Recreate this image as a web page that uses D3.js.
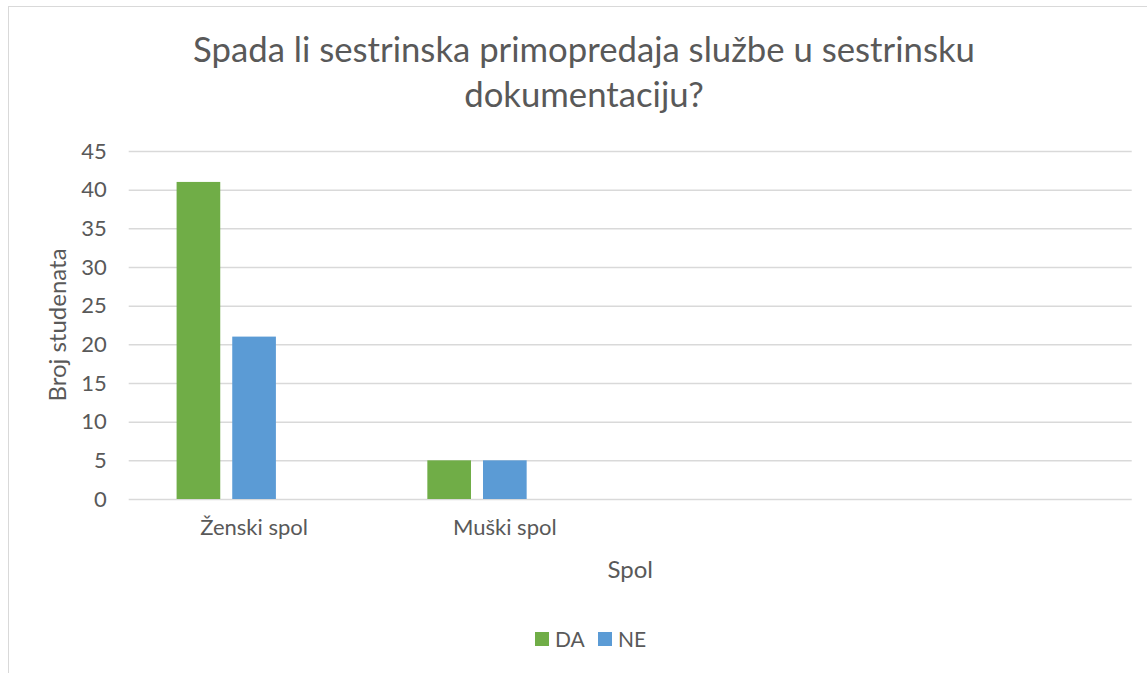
<!DOCTYPE html>
<html><head><meta charset="utf-8">
<script src="https://cdn.jsdelivr.net/npm/d3@7"></script>
<style>body{margin:0;background:#fff}text{font-family:Lato,"Open Sans",sans-serif;fill:#595959}</style>
</head><body><svg id="c" width="1147" height="673"></svg>
<script>
const titleLines = ["Spada li sestrinska primopredaja službe u sestrinsku", "dokumentaciju?"];
const categories = ["Ženski spol", "Muški spol", " ", "  "];
const series = ["DA", "NE"];
const slots = ["DA", "NE", "(prazno)"];
const valuesDA = [41, 5, null, null];
const valuesNE = [21, 5, null, null];
const colors = ["#70AD47", "#5B9BD5"];
const yTicks = [0, 5, 10, 15, 20, 25, 30, 35, 40, 45];
const yTitle = "Broj studenata";
const xTitle = "Spol";

const svg = d3.select("#c");
svg.append("rect").attr("x", 8.5).attr("y", 6.5).attr("width", 1150).attr("height", 700)
  .attr("fill", "#fff").attr("stroke", "#D9D9D9").attr("stroke-width", 1);

const L = 128.7, R = 1131.7, T = 151, B = 499;
const y = d3.scaleLinear().domain([0, 45]).range([B, T]);
const x0 = d3.scaleBand().domain(categories).range([L, R]).paddingInner(0.382).paddingOuter(0.191);
const x1 = d3.scaleBand().domain(slots).range([0, x0.bandwidth()]).paddingInner(0.2156).paddingOuter(0);

// gridlines
const gy = d3.axisLeft(y).tickValues(yTicks).tickSize(-(R - L)).tickFormat(d => d).tickPadding(22);
const g = svg.append("g").attr("transform", `translate(${L},0)`).call(gy);
g.select(".domain").remove();
g.selectAll(".tick line").attr("stroke", "#D9D9D9").attr("stroke-width", 1.5);
g.selectAll(".tick text").attr("font-size", 22).style("fill", "#595959").attr("font-family", "Lato");

// bars
const data = series.map((s, i) => ({ s, color: colors[i], vals: i === 0 ? valuesDA : valuesNE }));
data.forEach(d => {
  svg.append("g").selectAll("rect").data(categories.map((c, k) => ({ c, v: d.vals[k] })).filter(e => e.v != null))
    .join("rect")
    .attr("x", e => x0(e.c) + x1(d.s))
    .attr("width", x1.bandwidth())
    .attr("y", e => y(e.v))
    .attr("height", e => y(0) - y(e.v))
    .attr("fill", d.color);
});

// x axis labels
const gx = d3.axisBottom(x0).tickSize(0).tickPadding(20);
const gxa = svg.append("g").attr("transform", `translate(0,${B})`).call(gx);
gxa.select(".domain").remove();
gxa.selectAll(".tick text").attr("font-size", 22).style("fill", "#595959").attr("font-family", "Lato");

// title
const tt = svg.append("text").attr("text-anchor", "middle").attr("font-size", 37);
titleLines.forEach((t, i) => tt.append("tspan").attr("x", 584).attr("y", 62 + i * 45).text(t));
const w = tt.select("tspan").node().getComputedTextLength();
tt.attr("font-size", 37 * 782 / w);

// axis titles
svg.append("text").attr("transform", `translate(66,325) rotate(-90)`).attr("text-anchor", "middle")
  .attr("font-size", 24).text(yTitle);
svg.append("text").attr("x", (L + R) / 2).attr("y", 578).attr("text-anchor", "middle")
  .attr("font-size", 24).text(xTitle);

// legend
const lg = svg.append("g");
const legX = [535, 598];
series.forEach((s, i) => {
  lg.append("rect").attr("x", legX[i]).attr("y", 632).attr("width", 14).attr("height", 14).attr("fill", colors[i]);
  lg.append("text").attr("x", legX[i] + 20).attr("y", 647).attr("font-size", 21).text(s);
});
</script></body></html>
